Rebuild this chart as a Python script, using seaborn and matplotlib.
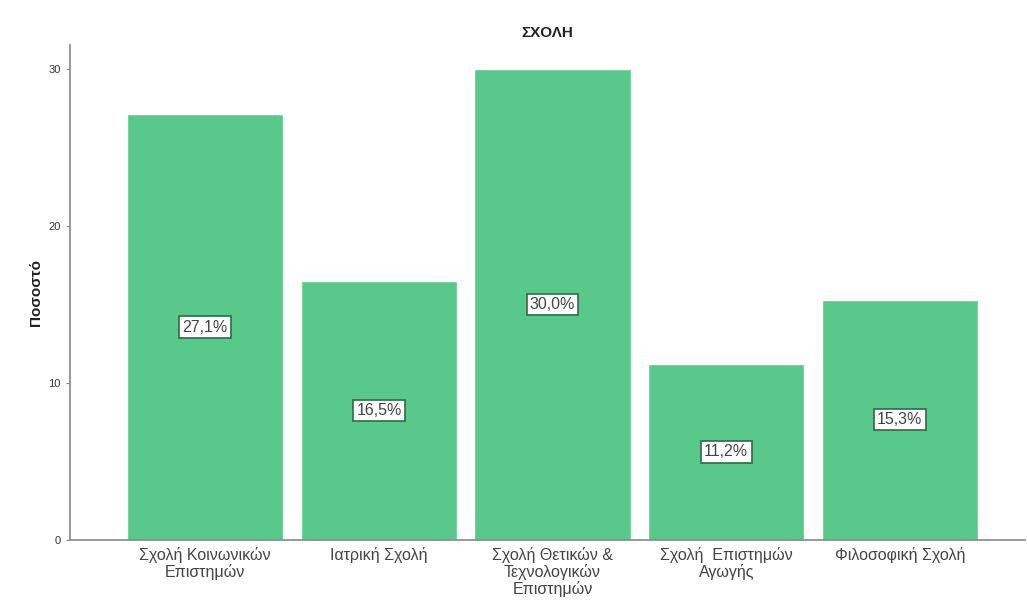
import seaborn as sns
import matplotlib.pyplot as plt

# data
schools = ["Σχολή Κοινωνικών\nΕπιστημών", "Ιατρική Σχολή",
           "Σχολή Θετικών &\nΤεχνολογικών\nΕπιστημών", "Σχολή  Επιστημών\nΑγωγής",
           "Φιλοσοφική Σχολή"]
percent = [27.1, 16.5, 30.0, 11.2, 15.3]
y_ticks = [0, 10, 20, 30]

sns.set_style("white")
plt.rcParams['font.family'] = ['Liberation Sans', 'DejaVu Sans']

fig = plt.figure(figsize=(10.27, 6.08), dpi=100)
ax = fig.add_axes([0.068, 0.112, 0.93, 0.814])

sns.barplot(x=schools, y=percent, color="#58C98A", saturation=1, width=0.9, ax=ax)

# labels in the middle of each bar
for i, v in enumerate(percent):
    ax.text(i, v / 2, f"{v:.1f}%".replace(".", ","), ha="center", va="center",
            fontsize=11.5, color="#444444",
            bbox=dict(boxstyle="square,pad=0.2", fc="white", ec="#2E6B45", lw=1.2))

ax.set_xlim(-0.78, 4.72)
ax.set_ylim(0, 31.5)
ax.set_yticks(y_ticks)
ax.set_yticklabels([str(t) for t in y_ticks], fontsize=8, color="#333333")
ax.tick_params(axis="x", labelsize=11.5, labelcolor="#444444", length=0, pad=5)
for lbl in ax.get_xticklabels():
    lbl.set_linespacing(1.1)
ax.tick_params(axis="y", length=3, color="#888888", left=True)

for s in ["top", "right"]:
    ax.spines[s].set_visible(False)
for s in ["left", "bottom"]:
    ax.spines[s].set_color("#888888")
    ax.spines[s].set_linewidth(1.2)

ax.set_ylabel("Ποσοστό", fontsize=11, fontweight="bold", color="#222222")
ax.set_title("ΣΧΟΛΗ", fontsize=11, fontweight="bold", color="#222222", pad=6)

fig.savefig("out.png", dpi=100)
